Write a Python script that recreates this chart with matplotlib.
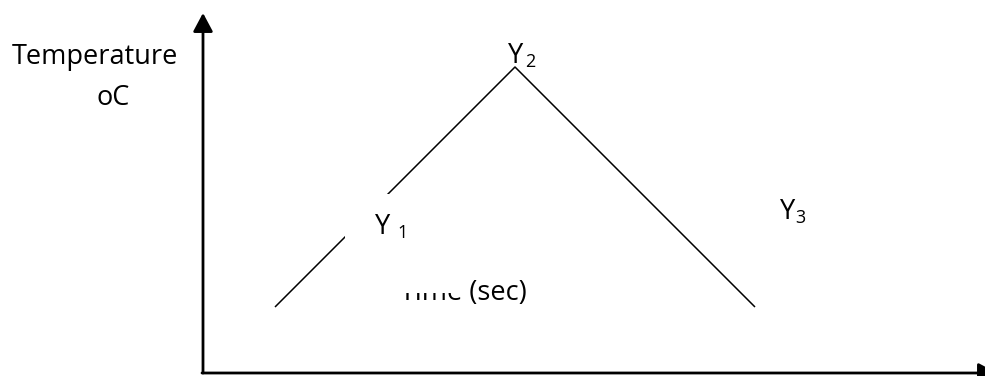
import matplotlib
matplotlib.use('Agg')
import matplotlib.pyplot as plt
import matplotlib.patches as patches

# heating / cooling profile (axis origin = corner of the arrows)
time_pts = [72, 312, 552]
temp_pts = [66, 306, 66]

y_label = 'Temperature'
y_unit = 'oC'
x_label = 'Time (sec)'
point_names = ['Y', 'Y', 'Y']
point_subs = ['1', '2', '3']

plt.rcParams['font.family'] = ['Open Sans', 'DejaVu Sans']

fig = plt.figure(figsize=(9.85, 3.76), dpi=100)
ax = fig.add_axes([0, 0, 1, 1])
ax.set_xlim(-203, 782)
ax.set_ylim(-3, 373)
ax.axis('off')

fs = 19.5
sub_fs = 13

# axes arrows
arrow = dict(arrowstyle='-|>,head_length=0.75,head_width=0.4', lw=2,
             color='black', mutation_scale=15, shrinkA=0, shrinkB=0)
ax.annotate('', xy=(0, 360), xytext=(0, 0), arrowprops=arrow)
ax.annotate('', xy=(794, 0), xytext=(-1, 0), arrowprops=arrow, annotation_clip=False)

# the profile line
ax.plot(time_pts, temp_pts, color='black', lw=1.1, solid_capstyle='butt', zorder=2)

# axis texts
ax.text(-191, 309, y_label, fontsize=fs, ha='left', va='baseline')
ax.text(-106, 268, y_unit, fontsize=fs, ha='left', va='baseline')
ax.text(197, 73, x_label, fontsize=fs, ha='left', va='baseline', zorder=3)

# white text box of the Y1 label, covering part of the line and of the x label
ax.add_patch(patches.Rectangle((142, 80), 118, 99, facecolor='white',
                               edgecolor='none', zorder=4))

# point labels
name_pos = [(172, 139), (305, 310), (577, 154)]
sub_pos = [(194, 135), (322, 306), (592, 150)]
for name, sub, p, q in zip(point_names, point_subs, name_pos, sub_pos):
    ax.text(p[0], p[1], name, fontsize=fs, ha='left', va='baseline', zorder=5)
    ax.text(q[0], q[1], sub, fontsize=sub_fs, ha='left', va='baseline', zorder=5)

fig.savefig('out.png', dpi=100)
